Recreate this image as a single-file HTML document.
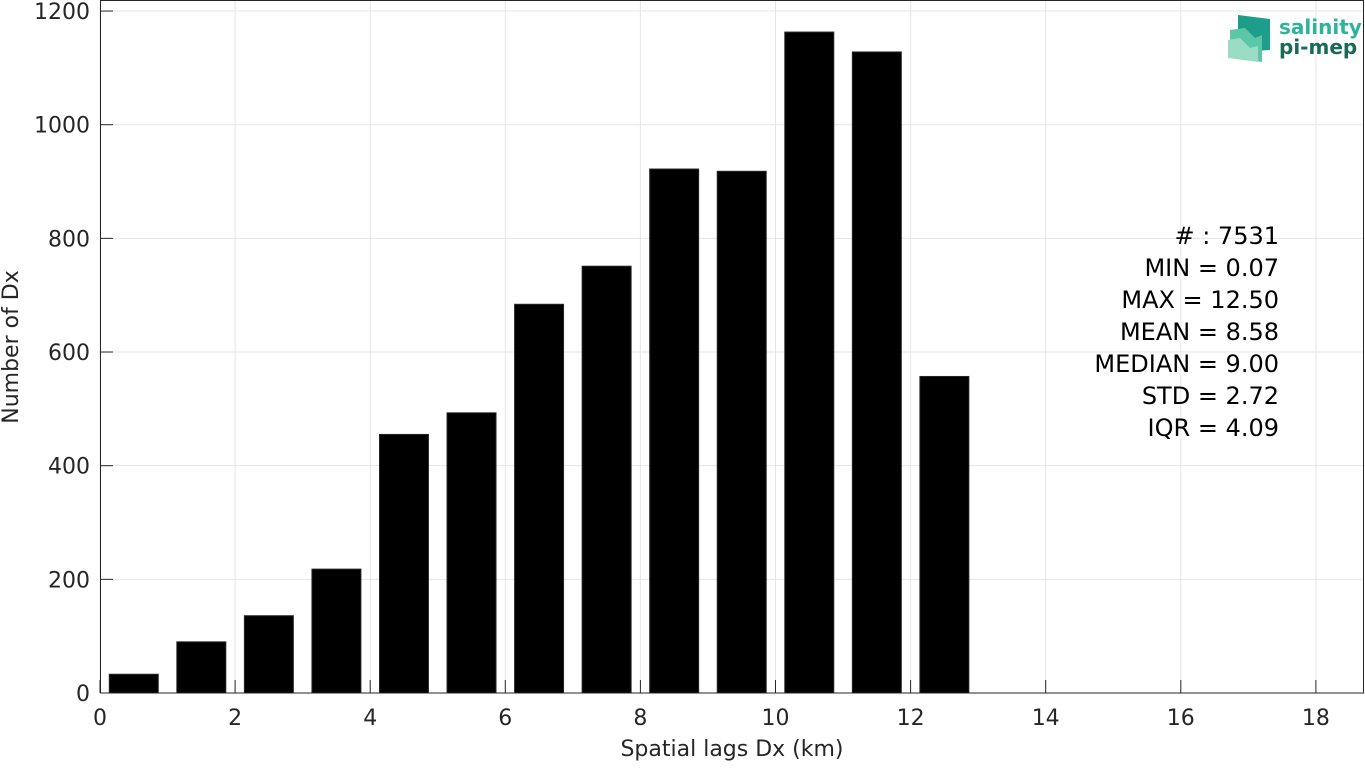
<!DOCTYPE html>
<html><head><meta charset="utf-8"><style>
body{margin:0;background:#fff;font-family:"Liberation Sans","DejaVu Sans",sans-serif;}
svg text{font-family:"DejaVu Sans","Liberation Sans",sans-serif;}
</style></head><body>
<svg id="chart" width="1365" height="763" xmlns="http://www.w3.org/2000/svg">
<g id="grid"></g>
<g id="bars"></g>
<rect x="100.5" y="0.5" width="1263" height="692.5" fill="none" stroke="#262626" stroke-width="1"/>
<g id="ticks"></g>
<text x="732" y="756" font-size="22" fill="#262626" text-anchor="middle">Spatial lags Dx (km)</text>
<text transform="translate(18,347) rotate(-90)" font-size="22" fill="#262626" text-anchor="middle">Number of Dx</text>
<g font-size="24" fill="#000" text-anchor="end">
<text x="1279" y="244">#  : 7531</text>
<text x="1279" y="276">MIN = 0.07</text>
<text x="1279" y="308">MAX =  12.50</text>
<text x="1279" y="340">MEAN = 8.58</text>
<text x="1279" y="372">MEDIAN = 9.00</text>
<text x="1279" y="404">STD = 2.72</text>
<text x="1279" y="436">IQR = 4.09</text>
</g>
<g>
<polygon points="1238,15 1270,19 1270,50 1238,52" fill="#1e9e8a"/>
<polygon points="1230,30 1245,28 1255,38 1262,35 1262,62 1230,56" fill="#5cc6a8"/>
<polygon points="1228,40 1240,38 1250,48 1258,46 1258,62 1228,58" fill="#9adcc4"/>
<text x="1279" y="34" font-size="20" font-weight="bold" fill="#2ab59a">salinity</text>
<text x="1279" y="54" font-size="20" font-weight="bold" fill="#1a6a5a">pi-mep</text>
</g>
</svg>
<script>
const categories=[0.5,1.5,2.5,3.5,4.5,5.5,6.5,7.5,8.5,9.5,10.5,11.5,12.5];
const counts=[33,90,136,218,455,493,684,751,922,918,1163,1128,557];
const xTicks=[0,2,4,6,8,10,12,14,16,18];
const yTicks=[0,200,400,600,800,1000,1200];
const NS="http://www.w3.org/2000/svg";
const X=v=>100+v*67.55;
const Y=v=>693-v*0.5683;
const grid=document.getElementById('grid'),bars=document.getElementById('bars'),ticks=document.getElementById('ticks');
function mk(tag,attrs,parent){const e=document.createElementNS(NS,tag);for(const k in attrs)e.setAttribute(k,attrs[k]);parent.appendChild(e);return e;}
xTicks.forEach(t=>{
 const gl=mk('line',{x1:X(t),x2:X(t),y1:0,y2:693,stroke:'#e6e6e6','stroke-width':1},grid);
 
 
 const tk=mk('line',{x1:X(t),x2:X(t),y1:693,y2:680,stroke:'#262626','stroke-width':1},ticks);
 
 
 const tl=mk('text',{x:X(t),y:725,'font-size':22,fill:'#262626','text-anchor':'middle'},ticks);
 tl.textContent=t;
 
 
});
yTicks.forEach(t=>{
 const gl=mk('line',{x1:100,x2:1363,y1:Y(t),y2:Y(t),stroke:'#e6e6e6','stroke-width':1},grid);
 
 
 const tk=mk('line',{x1:100,x2:113,y1:Y(t),y2:Y(t),stroke:'#262626','stroke-width':1},ticks);
 
 
 const tl=mk('text',{x:90,y:Y(t)+8,'font-size':22,fill:'#262626','text-anchor':'end'},ticks);
 tl.textContent=t;
 
 
});
categories.forEach((c,i)=>{
 const w=0.725;
 const r=mk('rect',{x:X(c-w/2),y:Y(counts[i]),width:X(c+w/2)-X(c-w/2),height:Y(0)-Y(counts[i]),fill:'#000',stroke:'#262626','stroke-width':1},bars);
 
 
});
</script>
</body></html>
